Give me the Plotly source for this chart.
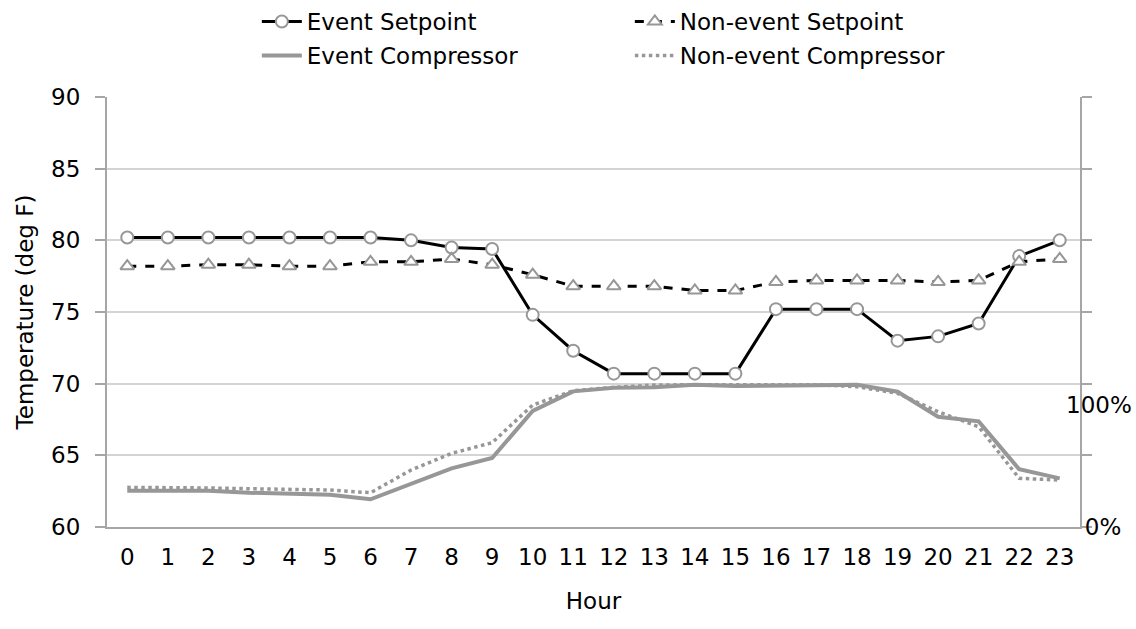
import plotly.graph_objects as go

hours = list(range(24))
hour_labels = [str(h) for h in hours]

event_setpoint = [80.2, 80.2, 80.2, 80.2, 80.2, 80.2, 80.2, 80.0, 79.5, 79.4,
                  74.8, 72.3, 70.7, 70.7, 70.7, 70.7, 75.2, 75.2, 75.2, 73.0,
                  73.3, 74.2, 78.9, 80.0]
nonevent_setpoint = [78.2, 78.2, 78.3, 78.3, 78.2, 78.2, 78.5, 78.5, 78.7, 78.3,
                     77.6, 76.8, 76.8, 76.8, 76.5, 76.5, 77.1, 77.2, 77.2, 77.2,
                     77.1, 77.2, 78.5, 78.7]
event_compressor = [29.8, 29.8, 29.8, 28.1, 27.0, 26.5, 22.7, 35.8, 48.1, 56.6,
                    95.1, 111.2, 114.2, 114.5, 116.6, 115.6, 115.6, 116.1, 116.6, 110.9,
                    90.4, 86.6, 47.3, 39.9]
nonevent_compressor = [32.5, 32.5, 32.0, 31.4, 30.9, 30.3, 28.1, 46.7, 60.4, 69.1,
                       100.0, 111.7, 114.5, 116.4, 116.6, 116.6, 116.6, 116.6, 115.0, 109.6,
                       94.5, 82.2, 39.9, 38.5]

temp_ticks = [60, 65, 70, 75, 80, 85, 90]
pct_ticks = [0, 100]
pct_labels = ["\u2002\u00a00%", "100%"]

FONT = "DejaVu Sans"
FS = 23
GRAY = "#979797"
W, H = 1136, 629

fig = go.Figure()
fig.add_trace(go.Scatter(
    x=hour_labels, y=event_setpoint, name="Event Setpoint", mode="lines+markers",
    line=dict(color="black", width=3),
    marker=dict(symbol="circle", size=12, color="white", line=dict(color=GRAY, width=2)),
    legend="legend",
))
fig.add_trace(go.Scatter(
    x=hour_labels, y=nonevent_setpoint, name="Non-event Setpoint", mode="lines+markers",
    line=dict(color="black", width=3, dash="dash"),
    marker=dict(symbol="triangle-up", size=12, color="white", line=dict(color=GRAY, width=2)),
    legend="legend",
))
fig.add_trace(go.Scatter(
    x=hour_labels, y=event_compressor, name="Event Compressor", mode="lines",
    line=dict(color=GRAY, width=4), yaxis="y2", legend="legend2",
))
fig.add_trace(go.Scatter(
    x=hour_labels, y=nonevent_compressor, name="Non-event Compressor", mode="lines",
    line=dict(color=GRAY, width=3.5, dash="dot"), yaxis="y2", legend="legend2",
))

legend_common = dict(
    orientation="h", x=0.154, xanchor="left", yanchor="top", yref="container",
    entrywidth=318, entrywidthmode="pixels",
    font=dict(family=FONT, size=FS), itemwidth=40,
    bgcolor="rgba(0,0,0,0)", borderwidth=0,
)

fig.update_layout(
    width=W, height=H,
    paper_bgcolor="white", plot_bgcolor="white",
    margin=dict(l=107, r=56, t=97, b=102, autoexpand=False),
    font=dict(family=FONT, size=FS, color="black"),
    showlegend=True,
    legend=dict(legend_common, y=1.0),
    legend2=dict(legend_common, y=1 - 34 / H),
    xaxis=dict(
        type="category", range=[-0.5, 23.5],
        showline=True, linecolor="#a6a6a6", linewidth=2,
        ticks="", showgrid=False, ticklabelstandoff=8,
        tickfont=dict(family=FONT, size=FS),
        title=dict(text="Hour", font=dict(family=FONT, size=FS), standoff=24),
    ),
    yaxis=dict(
        range=[60, 90], tickvals=temp_ticks,
        showline=True, linecolor="#a6a6a6", linewidth=2, mirror="ticks",
        ticks="outside", ticklen=10, tickcolor="#a6a6a6", tickwidth=2,
        showgrid=True, gridcolor="#d4d4d4", gridwidth=2,
        zeroline=False, ticklabelstandoff=10,
        tickfont=dict(family=FONT, size=FS),
        title=dict(text="Temperature (deg F)", font=dict(family=FONT, size=FS), standoff=11),
    ),
    yaxis2=dict(
        overlaying="y", side="right", range=[0, 352.5],
        tickvals=pct_ticks, ticktext=pct_labels, showgrid=False, showline=False,
        ticks="", zeroline=False, ticklabelstandoff=-15, automargin=False,
        tickfont=dict(family=FONT, size=FS),
    ),
)

fig.write_html(
    "out.html",
    config={"displayModeBar": False},
    post_script="document.body.style.margin='0';document.body.style.overflow='hidden';",
)
